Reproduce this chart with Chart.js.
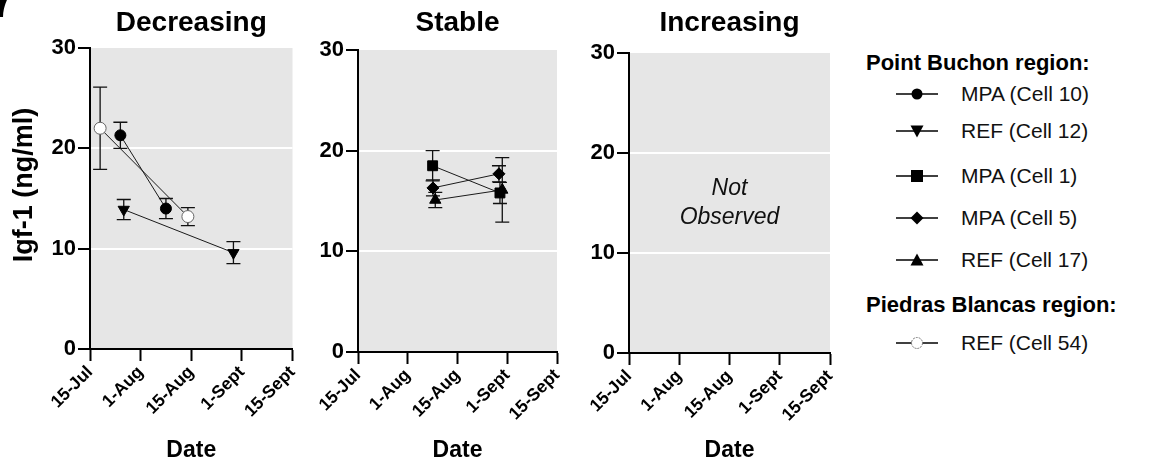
<!DOCTYPE html>
<html>
<head>
<meta charset="utf-8">
<script src="https://cdn.jsdelivr.net/npm/chart.js@4.4.1/dist/chart.umd.min.js"></script>
<style>
  body { margin: 0; background: #fff; width: 1164px; height: 468px; position: relative; overflow: hidden;
         font-family: "Liberation Sans", Arial, sans-serif; }
  canvas { position: absolute; top: 0; }
  #figLetter { position: absolute; left: -13px; top: -30px; font: bold 56px/56px "Liberation Sans", Arial, sans-serif; }
  .lg-head { position: absolute; left: 866px; font-weight: bold; font-size: 22px; line-height: 24px; white-space: nowrap; }
  .lg-row { position: absolute; left: 896px; height: 24px; display: flex; align-items: center; white-space: nowrap; }
  .lg-row span { margin-left: 23px; font-size: 21px; color: #111; }
</style>
</head>
<body>
<div id="figLetter">7</div>
<canvas id="decreasing" width="300" height="468" style="left:0px"></canvas>
<canvas id="stable" width="265" height="468" style="left:300px"></canvas>
<canvas id="increasing" width="275" height="468" style="left:565px"></canvas>
<div id="legend"></div>
<script>
// x = days after 15 July
const dateLabels = ['15-Jul', '1-Aug', '15-Aug', '1-Sept', '15-Sept'];
const yTicks = [0, 10, 20, 30];

// Decreasing
const cell10Days = [9, 22.5];
const cell10Igf = [21.3, 14.0];
const cell10Err = [1.3, 1.0];

const cell12Days = [10, 42.5];
const cell12Igf = [13.9, 9.6];
const cell12Err = [1.0, 1.1];

const cell54Days = [3, 29];
const cell54Igf = [22.0, 13.2];
const cell54Err = [4.1, 0.9];

// Stable
const cell1Days = [22.5, 42.8];
const cell1Igf = [18.5, 15.8];
const cell1Err = [1.5, 1.05];

const cell5Days = [22.6, 42.5];
const cell5Igf = [16.3, 17.7];
const cell5Err = [0.8, 0.8];

const cell17Days = [23.3, 43.5];
const cell17Igf = [15.1, 16.1];
const cell17Err = [0.75, 3.2];

const FONT = '"Liberation Sans", Arial, sans-serif';

function pts(days, vals) {
  return days.map((d, i) => ({ x: d, y: vals[i] }));
}

function series(label, days, vals, errs, style) {
  return Object.assign({
    label: label,
    data: pts(days, vals),
    errors: errs,
    showLine: true,
    borderColor: '#1a1a1a',
    borderWidth: 1,
    backgroundColor: '#000',
    pointBorderColor: '#000',
    pointBorderWidth: 1,
    pointRadius: 5.5
  }, style);
}

const errorBars = {
  id: 'errorBars',
  beforeDatasetsDraw(chart) {
    const ctx = chart.ctx, x = chart.scales.x, y = chart.scales.y;
    ctx.save();
    ctx.strokeStyle = '#111';
    ctx.lineWidth = 1.3;
    chart.data.datasets.forEach(ds => {
      ds.data.forEach((p, i) => {
        const e = ds.errors[i];
        const px = x.getPixelForValue(p.x);
        const top = y.getPixelForValue(p.y + e);
        const bot = y.getPixelForValue(p.y - e);
        ctx.beginPath();
        ctx.moveTo(px, top); ctx.lineTo(px, bot);
        ctx.moveTo(px - 7, top); ctx.lineTo(px + 7, top);
        ctx.moveTo(px - 7, bot); ctx.lineTo(px + 7, bot);
        ctx.stroke();
      });
    });
    ctx.restore();
  }
};

const panelDecor = {
  id: 'panelDecor',
  beforeDraw(chart) {
    const a = chart.chartArea, ctx = chart.ctx;
    ctx.save();
    ctx.fillStyle = '#e6e6e6';
    ctx.fillRect(a.left, a.top, a.right - a.left, a.bottom - a.top);
    ctx.restore();
  },
  afterDraw(chart, args, opts) {
    const a = chart.chartArea, ctx = chart.ctx;
    const cx = (a.left + a.right) / 2;
    ctx.save();
    ctx.fillStyle = '#000';
    ctx.textAlign = 'center';
    ctx.textBaseline = 'middle';
    ctx.font = 'bold 28px ' + FONT;
    ctx.fillText(opts.title, cx, 23);
    if (opts.yTitle) {
      ctx.save();
      ctx.translate(25, 185);
      ctx.rotate(-Math.PI / 2);
      ctx.font = 'bold 27px ' + FONT;
      ctx.fillText(opts.yTitle, 0, 0);
      ctx.restore();
    }
    if (opts.note) {
      ctx.font = 'italic 23px ' + FONT;
      ctx.fillStyle = '#111';
      opts.note.forEach((line, i) => {
        ctx.fillText(line, cx, chart.scales.y.getPixelForValue(16.4 - i * 2.9));
      });
    }
    ctx.restore();
  }
};

function makePanel(id, title, datasets, yWidth, top, xHeight, right, yTitle, note) {
  return new Chart(document.getElementById(id), {
    type: 'scatter',
    data: { datasets: datasets },
    plugins: [panelDecor, errorBars],
    options: {
      responsive: false,
      animation: false,
      layout: { padding: { top: top, right: right, left: 0, bottom: 0 } },
      plugins: {
        legend: { display: false },
        tooltip: { enabled: false },
        panelDecor: { title: title, note: note, yTitle: yTitle }
      },
      scales: {
        x: {
          type: 'linear', min: 0, max: 60,
          afterFit: s => { s.height = xHeight; s.paddingLeft = 0; s.paddingRight = 0; },
          border: { display: true, color: '#000', width: 2 },
          grid: { drawOnChartArea: false, color: '#000', tickColor: '#000', tickLength: 12, tickWidth: 2 },
          ticks: {
            stepSize: 15, autoSkip: false, maxRotation: 45, minRotation: 45, padding: 1,
            color: '#000', font: { family: FONT, size: 17.5, weight: 'bold' },
            callback: (v, i) => dateLabels[i]
          },
          title: { display: true, text: 'Date', color: '#000', padding: { top: 0, bottom: 4 },
                   font: { family: FONT, size: 23, weight: 'bold' } }
        },
        y: {
          min: 0, max: 30,
          afterFit: s => { s.width = yWidth; },
          afterBuildTicks: s => { s.ticks = yTicks.map(v => ({ value: v })); },
          border: { display: true, color: '#000', width: 2 },
          grid: {
            color: c => (c.tick && (c.tick.value === 10 || c.tick.value === 20)) ? '#fff' : 'rgba(0,0,0,0)',
            lineWidth: 2, tickColor: '#000', tickLength: 12, tickWidth: 2
          },
          ticks: { color: '#000', padding: 2, font: { family: FONT, size: 22, weight: 'bold' } }
        }
      }
    }
  });
}

makePanel('decreasing', 'Decreasing', [
  series('REF (Cell 54)', cell54Days, cell54Igf, cell54Err,
    { backgroundColor: '#fff', pointBorderColor: '#666', pointRadius: 6 }),
  series('MPA (Cell 10)', cell10Days, cell10Igf, cell10Err, { pointStyle: 'circle' }),
  series('REF (Cell 12)', cell12Days, cell12Igf, cell12Err,
    { pointStyle: 'triangle', pointRotation: 180, pointRadius: 6.5 })
], 90, 48, 119, 7, 'Igf-1 (ng/ml)');

makePanel('stable', 'Stable', [
  series('MPA (Cell 1)', cell1Days, cell1Igf, cell1Err, { pointStyle: 'rect', pointRadius: 7 }),
  series('MPA (Cell 5)', cell5Days, cell5Igf, cell5Err, { pointStyle: 'rectRot', pointRadius: 6 }),
  series('REF (Cell 17)', cell17Days, cell17Igf, cell17Err, { pointStyle: 'triangle', pointRadius: 6.5 })
], 58, 50, 116, 6, null);

makePanel('increasing', 'Increasing', [], 64, 53, 115, 10, null, ['Not', 'Observed']);

// legend
const legendHeads = [
  { text: 'Point Buchon region:', y: 63 },
  { text: 'Piedras Blancas region:', y: 305 }
];
const legendRows = [
  { text: 'MPA (Cell 10)', y: 94, shape: 'circle' },
  { text: 'REF (Cell 12)', y: 131, shape: 'tridown' },
  { text: 'MPA (Cell 1)', y: 176, shape: 'square' },
  { text: 'MPA (Cell 5)', y: 218, shape: 'diamond' },
  { text: 'REF (Cell 17)', y: 260, shape: 'triup' },
  { text: 'REF (Cell 54)', y: 343, shape: 'open' }
];
const shapes = {
  circle: '<circle cx="21" cy="12" r="5.5" fill="#000"/>',
  open: '<circle cx="21" cy="12" r="5.5" fill="#fff" stroke="#777" stroke-width="1" stroke-dasharray="2 1"/>',
  square: '<rect x="15" y="6" width="12" height="12" fill="#000"/>',
  diamond: '<polygon points="21,5.5 27.5,12 21,18.5 14.5,12" fill="#000"/>',
  triup: '<polygon points="21,5.5 27.5,17.5 14.5,17.5" fill="#000"/>',
  tridown: '<polygon points="14.5,6.5 27.5,6.5 21,18.5" fill="#000"/>'
};
const lg = document.getElementById('legend');
legendHeads.forEach(h => {
  const d = document.createElement('div');
  d.className = 'lg-head';
  d.style.top = (h.y - 12) + 'px';
  d.textContent = h.text;
  lg.appendChild(d);
});
legendRows.forEach(r => {
  const d = document.createElement('div');
  d.className = 'lg-row';
  d.style.top = (r.y - 12) + 'px';
  d.innerHTML = '<svg width="42" height="24"><line x1="0" y1="12" x2="42" y2="12" stroke="#000" stroke-width="1.3"/>' +
    shapes[r.shape] + '</svg><span></span>';
  d.querySelector('span').textContent = r.text;
  lg.appendChild(d);
});
</script>
</body>
</html>
